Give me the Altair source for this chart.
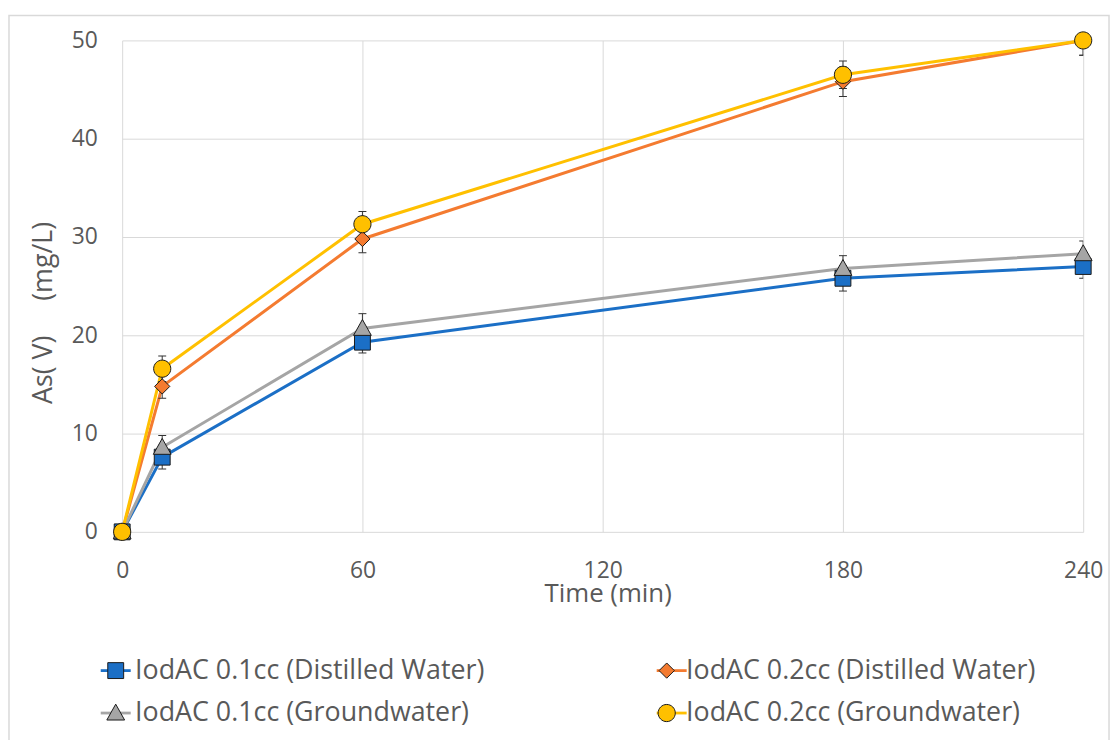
import altair as alt
import pandas as pd

# ---- data ----
times = [0, 10, 60, 180, 240]
series = [
    "IodAC 0.1cc (Distilled Water)",
    "IodAC 0.2cc (Distilled Water)",
    "IodAC 0.1cc (Groundwater)",
    "IodAC 0.2cc (Groundwater)",
]
blue_dw = [0.0, 7.6, 19.3, 25.8, 27.0]
orange_dw = [0.0, 14.8, 29.8, 45.8, 50.0]
gray_gw = [0.0, 8.6, 20.7, 26.8, 28.3]
yellow_gw = [0.0, 16.6, 31.3, 46.5, 50.0]
err_blue = [0.0, 1.2, 1.1, 1.3, 1.2]
err_orange = [0.0, 1.2, 1.4, 1.5, 1.5]
err_gray = [0.0, 1.2, 1.5, 1.3, 1.3]
err_yellow = [0.0, 1.3, 1.3, 1.4, 1.5]
x_ticks = [0, 60, 120, 180, 240]
y_ticks = [0, 10, 20, 30, 40, 50]

colors = ["#1B6FC6", "#F47B30", "#A5A5A5", "#FFC000"]
outline = ["#1a1a1a"] * 4
shapes = [
    "M-0.5,-0.5H0.5V0.5H-0.5Z",
    "M0,-0.48L0.48,0L0,0.48L-0.48,0Z",
    "M0,-0.56L0.56,0.44H-0.56Z",
    "M0.54,0A0.54,0.54,0,1,1,-0.54,0A0.54,0.54,0,1,1,0.54,0Z",
]

rows = []
for si, (name, vals, errs) in enumerate(
    zip(series, [blue_dw, orange_dw, gray_gw, yellow_gw],
        [err_blue, err_orange, err_gray, err_yellow])):
    for t, v, e in zip(times, vals, errs):
        rows.append({"series": name, "line_series": name, "time": t,
                     "value": v, "lo": v - e, "hi": v + e, "ord": si})
df = pd.DataFrame(rows)

FONT = "Open Sans"
TXT = "#595959"
GRID = "#d9d9d9"

xaxis = alt.Axis(values=x_ticks, title="Time (min)", grid=True, gridColor=GRID,
                 ticks=False, tickSize=0, domain=False, labelFont=FONT,
                 labelFlush=False,
                 labelFontSize=23, labelColor=TXT, labelPadding=28,
                 titleFont=FONT, titleFontSize=26, titleFontWeight="normal",
                 titleColor=TXT, titleBaseline="alphabetic", titleX=489, titleY=70)
yaxis = alt.Axis(values=y_ticks, title="As(\u00a0V)\u00a0\u00a0\u00a0\u00a0\u00a0(mg/L)",
                 grid=True, gridColor=GRID, ticks=False, tickSize=0, domain=False,
                 labelFont=FONT, labelFontSize=23, labelColor=TXT, labelPadding=25,
                 labelFlush=False,
                 titleFont=FONT, titleFontSize=27, titleFontWeight="normal",
                 titleColor=TXT, titleBaseline="alphabetic", titleX=-71, titleY=274,
                 titleAngle=270)

X = alt.X("time:Q", scale=alt.Scale(domain=[0, 240], nice=False, zero=False), axis=xaxis)
Y = alt.Y("value:Q", scale=alt.Scale(domain=[0, 50], nice=False), axis=yaxis)

leg_common = dict(orient="none", legendX=-23, legendY=618, columns=2,
                  direction="horizontal",
                  columnPadding=167, rowPadding=13, title=None, labelFont=FONT,
                  labelFontSize=27, labelLimit=700, labelOffset=3, padding=0)

legend_line = alt.Legend(symbolType="stroke", symbolSize=912, symbolStrokeWidth=2.8,
                         labelColor="transparent", zindex=0, **leg_common)
legend_mark = alt.Legend(symbolSize=1024, symbolStrokeWidth=1, labelColor=TXT,
                         zindex=1, **leg_common)

frame = alt.Chart(pd.DataFrame({"a": [0]})).mark_rect(
    fill="transparent", stroke=GRID, strokeWidth=1.5).encode(
    x=alt.value(-114), x2=alt.value(994), y=alt.value(-25), y2=alt.value(800))

base = alt.Chart(df)

lines = base.mark_line(strokeWidth=3).encode(
    x=X, y=Y,
    color=alt.Color("line_series:N", sort=series,
                    scale=alt.Scale(range=colors), legend=legend_line),
)

rules = base.mark_rule(color="#333333", strokeWidth=1, clip=True).encode(
    x=X, y=alt.Y("lo:Q"), y2="hi:Q")
cap_lo = base.mark_tick(orient="horizontal", size=8, thickness=1, color="#333333",
                        clip=True, opacity=1).encode(x=X, y=alt.Y("lo:Q"))
cap_hi = base.mark_tick(orient="horizontal", size=8, thickness=1, color="#333333",
                        clip=True, opacity=1).encode(x=X, y=alt.Y("hi:Q"))

points = base.mark_point(size=1024, opacity=1, strokeWidth=1, fillOpacity=1).encode(
    x=X, y=Y,
    fill=alt.Fill("series:N", scale=alt.Scale(domain=series, range=colors),
                  legend=legend_mark),
    shape=alt.Shape("series:N", scale=alt.Scale(domain=series, range=shapes),
                    legend=legend_mark),
    stroke=alt.Stroke("series:N", scale=alt.Scale(domain=series, range=outline),
                      legend=legend_mark),
    order=alt.Order("ord:Q"),
)

chart = alt.layer(frame, lines, rules, cap_lo, cap_hi, points).properties(
    width=968, height=495,
    autosize=alt.AutoSizeParams(type="none"),
    padding={"left": 115, "top": 30, "right": 27, "bottom": 207},
).configure_view(stroke=None)

chart.save("out.html", embed_options={"renderer": "svg", "actions": False})
